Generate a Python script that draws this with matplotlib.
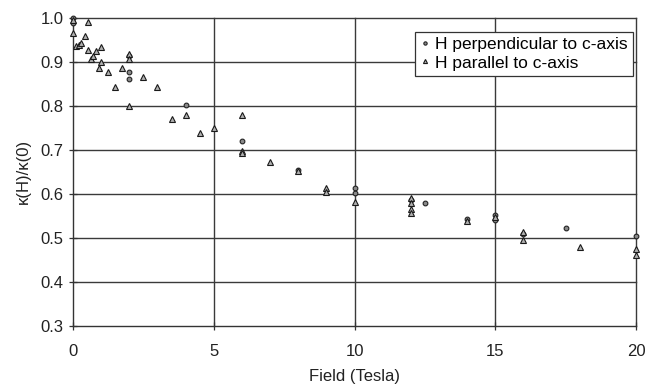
import matplotlib
matplotlib.use("Agg")
import matplotlib.pyplot as plt

plt.rcParams['font.family'] = ['Liberation Sans', 'DejaVu Sans']

# Thermal conductivity ratio vs applied field
perp_field = [0, 0, 2, 2, 2, 4, 6, 8, 10, 10, 12, 12.5, 14, 15, 15, 16, 17.5, 20]
perp_kappa = [1.0, 0.988, 0.912, 0.876, 0.860, 0.802, 0.720, 0.655, 0.612, 0.602,
              0.585, 0.580, 0.542, 0.551, 0.541, 0.508, 0.523, 0.503]

par_field = [0, 0, 0.1, 0.2, 0.3, 0.42, 0.54, 0.54, 0.63, 0.70, 0.81, 0.92, 1.0, 1.0,
             1.25, 1.5, 1.75, 2, 2, 2, 2.5, 3, 3.5, 4, 4.5, 5, 6, 6, 6, 7, 8, 9, 9,
             10, 12, 12, 12, 12, 14, 15, 16, 16, 18, 20, 20]
par_kappa = [0.995, 0.966, 0.936, 0.938, 0.942, 0.958, 0.990, 0.927, 0.906, 0.912,
             0.925, 0.886, 0.934, 0.899, 0.876, 0.843, 0.886, 0.917, 0.906, 0.800,
             0.866, 0.843, 0.769, 0.780, 0.738, 0.750, 0.780, 0.696, 0.692, 0.673,
             0.652, 0.612, 0.603, 0.582, 0.590, 0.578, 0.566, 0.556, 0.538, 0.546,
             0.513, 0.494, 0.479, 0.475, 0.460]

x_ticks = [0, 5, 10, 15, 20]
y_ticks = [0.3, 0.4, 0.5, 0.6, 0.7, 0.8, 0.9, 1.0]
y_ticklabels = ['0.3', '0.4', '0.5', '0.6', '0.7', '0.8', '0.9', '1.0']

fig = plt.figure(figsize=(6.48, 3.85), dpi=100)
ax = fig.add_axes([0.1127, 0.154, 0.8688, 0.8])

grid_col = '#3a3a3a'
for x in x_ticks[1:]:
    ax.axvline(x, color=grid_col, lw=1.0, zorder=1, clip_on=False)
for y in y_ticks[1:]:
    ax.axhline(y, color=grid_col, lw=1.0, zorder=1, clip_on=False)

ax.plot(perp_field, perp_kappa, linestyle='none', marker='o', markersize=3.4,
        markerfacecolor='#8a8a8a', markeredgecolor='#222222', markeredgewidth=0.8,
        label='H perpendicular to c-axis', zorder=3, clip_on=False)
ax.plot(par_field, par_kappa, linestyle='none', marker='^', markersize=4.2,
        markerfacecolor='#b0b0b0', markeredgecolor='#1a1a1a', markeredgewidth=0.8,
        label='H parallel to c-axis', zorder=3, clip_on=False)

ax.set_xlim(0, 20)
ax.set_ylim(0.3, 1.0)
ax.set_xticks(x_ticks)
ax.set_xticklabels([str(v) for v in x_ticks])
ax.set_yticks(y_ticks)
ax.set_yticklabels(y_ticklabels)
ax.tick_params(direction='inout', length=6, width=0.9, colors='#333333',
               labelsize=12, labelcolor='#222222')
ax.tick_params(axis='x', pad=10.5)
ax.tick_params(axis='y', pad=4)

for side in ('top', 'right'):
    ax.spines[side].set_visible(False)
for side in ('left', 'bottom'):
    ax.spines[side].set_color('#333333')
    ax.spines[side].set_linewidth(1.0)

ax.set_xlabel('Field (Tesla)', fontsize=12, color='#222222', labelpad=7)
ax.set_ylabel('κ(H)/κ(0)', fontsize=12, color='#222222', labelpad=7)

leg = ax.legend(loc='upper right', bbox_to_anchor=(0.995, 0.955), frameon=True,
                fancybox=False, fontsize=12.5, markerscale=0.7, handlelength=0.6,
                handletextpad=0.3, borderpad=0.3, labelspacing=0.2,
                borderaxespad=0.0)
leg.get_frame().set_edgecolor('#333333')
leg.get_frame().set_linewidth(0.9)
leg.get_frame().set_alpha(1.0)
leg.set_zorder(5)

fig.savefig('out.png', dpi=100)
